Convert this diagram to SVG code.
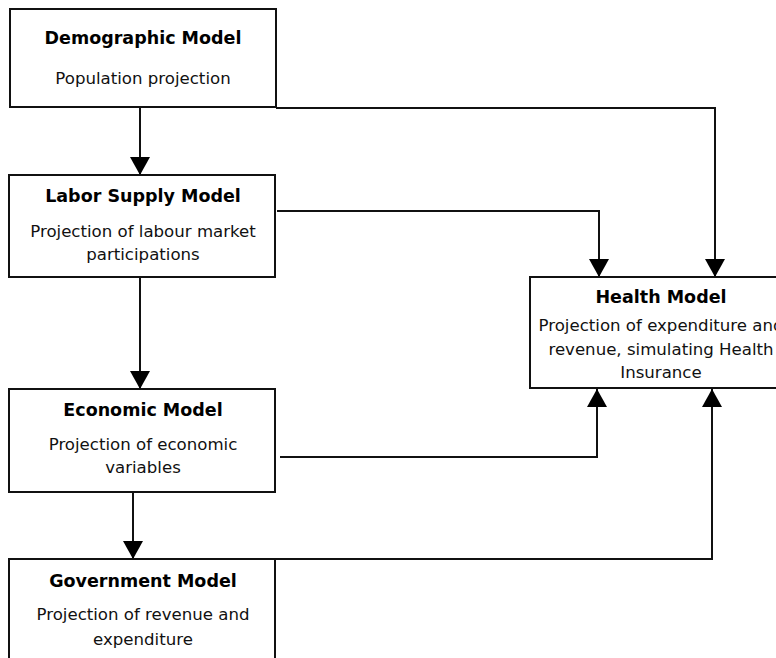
<svg xmlns="http://www.w3.org/2000/svg" width="776" height="658" viewBox="0 0 776 658">
<style>
.box{fill:#fff;stroke:#111;stroke-width:2}
.t{font-family:"DejaVu Sans",Verdana,sans-serif;font-size:17.5px;font-weight:bold;fill:#000;text-anchor:middle}
.s{font-family:"DejaVu Sans",Verdana,sans-serif;font-size:16.6px;fill:#111;text-anchor:middle}
.c{fill:none;stroke:#111;stroke-width:2}
</style>
<defs>
<marker id="ah" markerUnits="userSpaceOnUse" markerWidth="20" markerHeight="20" refX="18" refY="10" orient="auto">
<path d="M0,0 L18,10 L0,20 z" fill="#000"/>
</marker>
</defs>
<rect width="776" height="658" fill="#fff"/>
<g id="connectors">
<path class="c" d="M140,107 V175" marker-end="url(#ah)"/>
<path class="c" d="M140,277 V389" marker-end="url(#ah)"/>
<path class="c" d="M133,492 V559" marker-end="url(#ah)"/>
<path class="c" d="M276,108 H715 V277" marker-end="url(#ah)"/>
<path class="c" d="M277,211 H599 V277" marker-end="url(#ah)"/>
<path class="c" d="M280,457 H597 V389" marker-end="url(#ah)"/>
<path class="c" d="M275,559 H712 V389" marker-end="url(#ah)"/>
</g>
<g id="demographic">
<rect class="box" x="10" y="9" width="266" height="98"/>
<text class="t" x="143" y="44">Demographic Model</text>
<text class="s" x="143" y="84">Population projection</text>
</g>
<g id="labor">
<rect class="box" x="9" y="175" width="266" height="102"/>
<text class="t" x="143" y="202">Labor Supply Model</text>
<text class="s" x="143" y="237">Projection of labour market</text>
<text class="s" x="143" y="260">participations</text>
</g>
<g id="health">
<rect class="box" x="530" y="277" width="262" height="111"/>
<text class="t" x="661" y="303">Health Model</text>
<text class="s" x="661" y="331">Projection of expenditure and</text>
<text class="s" x="661" y="355">revenue, simulating Health</text>
<text class="s" x="661" y="378">Insurance</text>
</g>
<g id="economic">
<rect class="box" x="9" y="389" width="266" height="103"/>
<text class="t" x="143" y="416">Economic Model</text>
<text class="s" x="143" y="450">Projection of economic</text>
<text class="s" x="143" y="473">variables</text>
</g>
<g id="government">
<rect class="box" x="9" y="559" width="266" height="110"/>
<text class="t" x="143" y="587">Government Model</text>
<text class="s" x="143" y="620">Projection of revenue and</text>
<text class="s" x="143" y="645">expenditure</text>
</g>
</svg>
